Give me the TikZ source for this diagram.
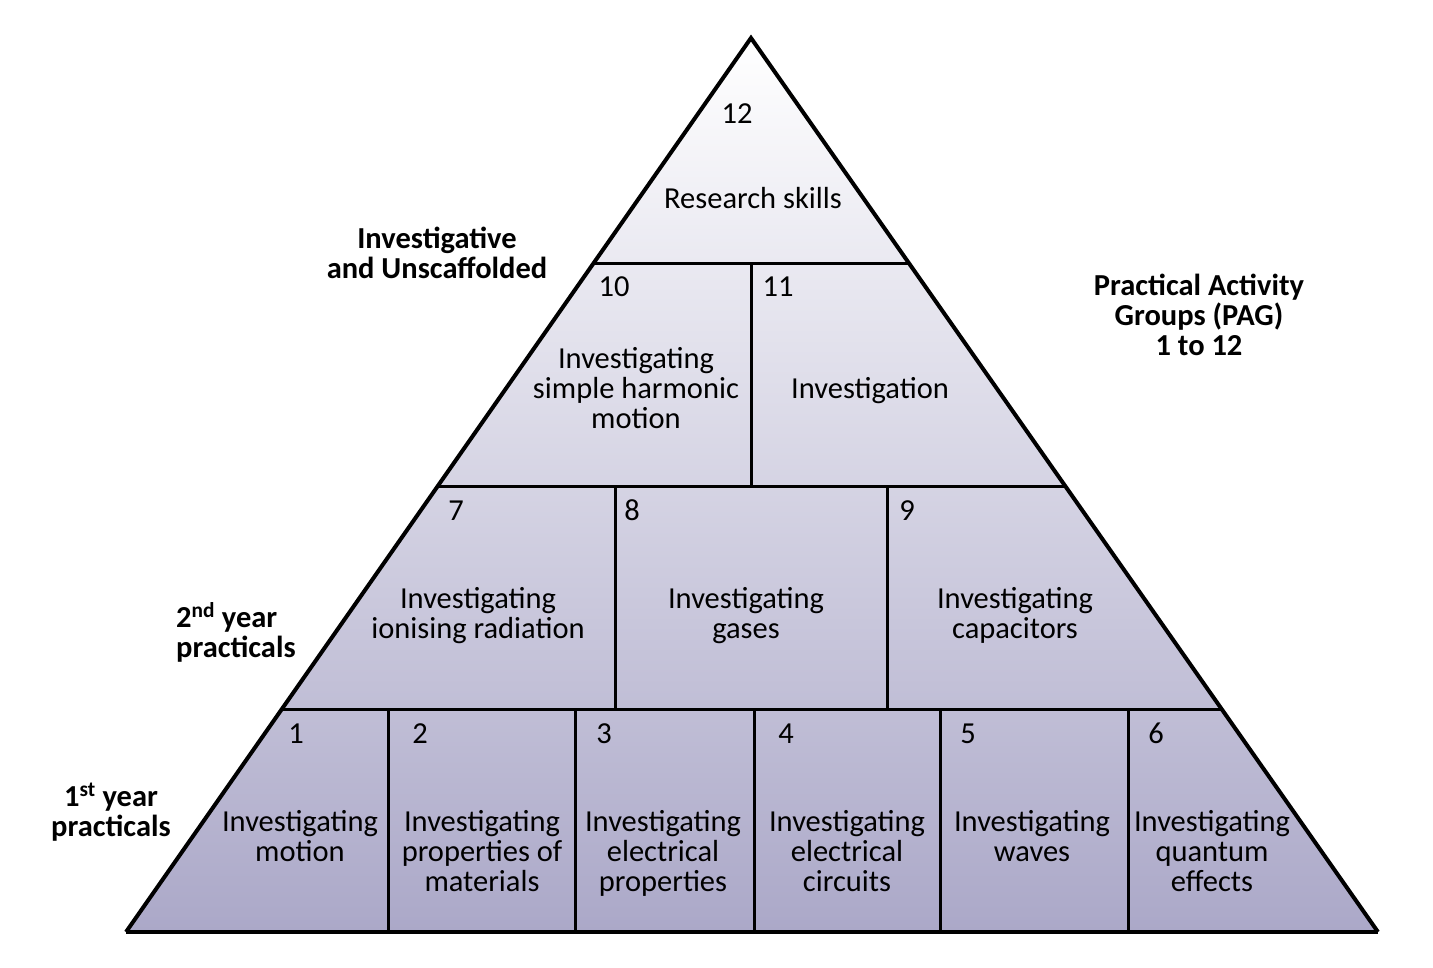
\documentclass[tikz,border=0pt]{standalone}
\usepackage{fontspec}
\setmainfont{Carlito}
\usetikzlibrary{calc}
\definecolor{pyrbot}{RGB}{171,168,200}
\begin{document}
\begin{tikzpicture}[x=1pt,y=-1pt,
  txt/.style={font=\fontsize{30.5}{30}\selectfont, inner sep=0pt, align=center, anchor=base},
  lbl/.style={txt, font=\fontsize{30.5}{30}\selectfont\bfseries},
  outer/.style={line width=4pt, line join=miter},
  inner/.style={line width=3pt}]
\useasboundingbox (0,0) rectangle (1433,967);
\coordinate (apex) at (751,38);
\coordinate (bl) at (126,932);
\coordinate (br) at (1378,932);
\shade[top color=white, bottom color=pyrbot] (apex) -- (bl) -- (br) -- cycle;
% horizontal levels
\coordinate (l1) at ($(apex)!0.25168!(bl)$);
\coordinate (r1) at ($(apex)!0.25168!(br)$);
\coordinate (l2) at ($(apex)!0.50112!(bl)$);
\coordinate (r2) at ($(apex)!0.50112!(br)$);
\coordinate (l3) at ($(apex)!0.75056!(bl)$);
\coordinate (r3) at ($(apex)!0.75056!(br)$);
\draw[inner] (l1) -- (r1);
\draw[inner] (l2) -- (r2);
\draw[inner] (l3) -- (r3);
% vertical dividers
\draw[inner] (751,263) -- (751,486);
\draw[inner] (615,486) -- (615,709);
\draw[inner] (887,486) -- (887,709);
\foreach \x in {388,575,754,940,1128} \draw[inner] (\x,709) -- (\x,932);
\draw[outer] (bl) -- (apex) -- (br);
\draw[outer] (bl) -- (br);
% texts (anchor = baseline of last line)
\node[txt] (n12) at (737,123) {12};
\node[txt] (t12) at (753,208) {Research skills};
\node[txt] (n10) at (614,296) {10};
\node[txt] (n11) at (778,296) {11};
\node[txt] (t10) at (636,428) {Investigating\\simple harmonic\\motion};
\node[txt] (t11) at (870,398) {Investigation};
\node[txt] (n7) at (456,520) {7};
\node[txt] (n8) at (632,520) {8};
\node[txt] (n9) at (907,520) {9};
\node[txt] (t7) at (478,638) {Investigating\\ionising radiation};
\node[txt] (t8) at (746,638) {Investigating\\gases};
\node[txt] (t9) at (1015,638) {Investigating\\capacitors};
\node[txt] (n1) at (296,743) {1};
\node[txt] (n2) at (420,743) {2};
\node[txt] (n3) at (604,743) {3};
\node[txt] (n4) at (786,743) {4};
\node[txt] (n5) at (968,743) {5};
\node[txt] (n6) at (1156,743) {6};
\node[txt] (t1) at (300,861) {Investigating\\motion};
\node[txt] (t2) at (482,891) {Investigating\\properties of\\materials};
\node[txt] (t3) at (663,891) {Investigating\\electrical\\properties};
\node[txt] (t4) at (847,891) {Investigating\\electrical\\circuits};
\node[txt] (t5) at (1032,861) {Investigating\\waves};
\node[txt] (t6) at (1212,891) {Investigating\\quantum\\effects};
% side labels
\node[lbl] (linv) at (437,278) {Investigative\\and Unscaffolded};
\node[lbl, anchor=base west, align=left] (l2nd) at (176,657) {2\textsuperscript{nd} year\\practicals};
\node[lbl] (l1st) at (111,836) {1\textsuperscript{st} year\\practicals};
\node[lbl] (lpag) at (1199,355) {Practical Activity\\Groups (PAG)\\1 to 12};
\end{tikzpicture}
\end{document}
